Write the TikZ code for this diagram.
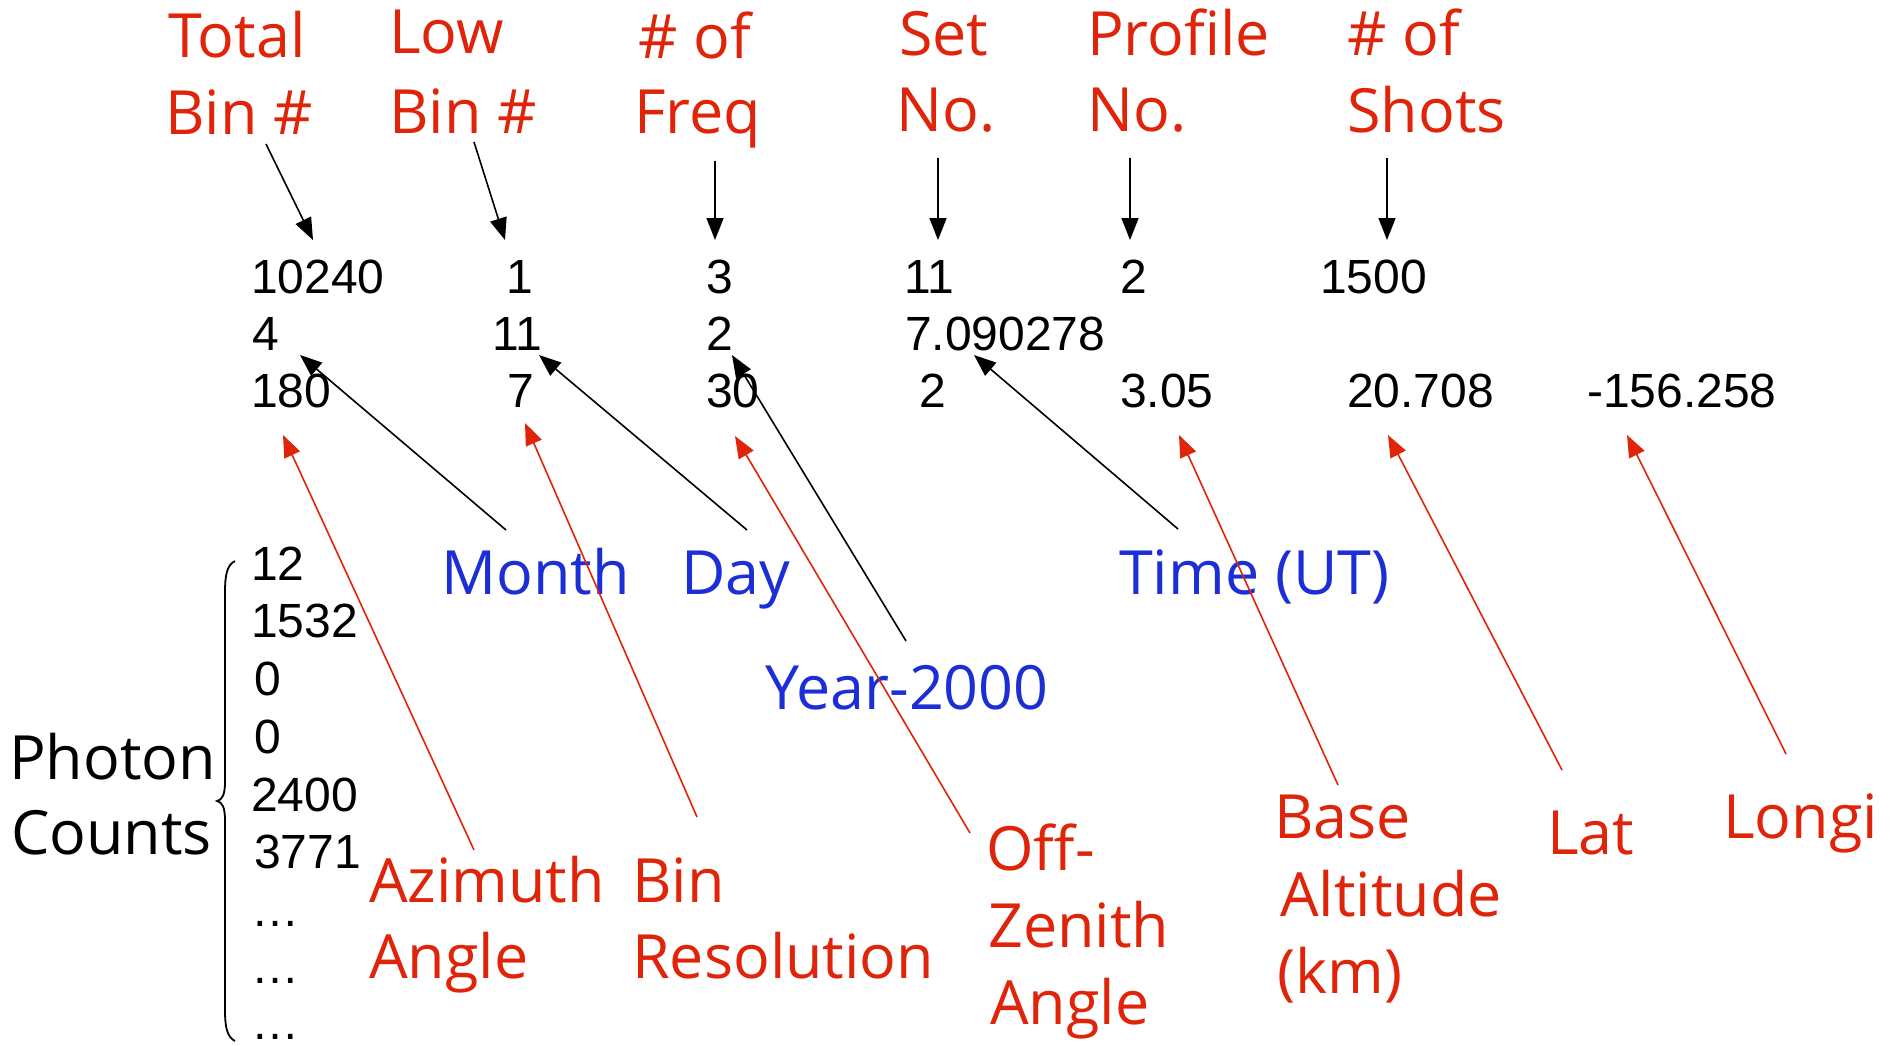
\documentclass[tikz,border=0pt]{standalone}
\usepackage{fontspec}
\setmainfont{Liberation Sans}
\newfontfamily\labfont{Open Sans}
\usetikzlibrary{arrows.meta}
\definecolor{lred}{RGB}{224,36,10}
\definecolor{lblue}{RGB}{28,46,214}
\begin{document}
\begin{tikzpicture}[x=1pt,y=-1pt,
  num/.style={anchor=base west, inner sep=0pt, font=\fontsize{48}{48}\selectfont},
  lab/.style={anchor=base west, inner sep=0pt, font=\labfont\fontsize{61}{61}\selectfont},
  rlab/.style={lab, text=lred},
  blab/.style={lab, text=lblue},
  karr/.style={line width=1.6pt, draw=black, -{Triangle[length=22pt,width=17pt]}},
  rarr/.style={line width=1.6pt, draw=lred, -{Triangle[length=22pt,width=17pt]}}]
\useasboundingbox[fill=white] (0,0) rectangle (1890,1045);

% top red labels
\node[rlab] (tot1) at (168,57) {Total};
\node[rlab] (tot2) at (165,134) {Bin \#};
\node[rlab] (low1) at (389,53) {Low};
\node[rlab] (low2) at (389,133) {Bin \#};
\node[rlab] (frq1) at (638,58) {\# of};
\node[rlab] (frq2) at (634,133) {Freq};
\node[rlab] (set1) at (899,55) {Set};
\node[rlab] (set2) at (896,131) {No.};
\node[rlab] (pro1) at (1087,55) {Profile};
\node[rlab] (pro2) at (1087,131) {No.};
\node[rlab] (sho1) at (1347,55) {\# of};
\node[rlab] (sho2) at (1347,132) {Shots};

% numbers
\node[num] (r1a) at (251,293) {10240};
\node[num] (r1b) at (506,293) {1};
\node[num] (r1c) at (706,293) {3};
\node[num] (r1d) at (904,293) {11};
\node[num] (r1e) at (1120,293) {2};
\node[num] (r1f) at (1320,293) {1500};
\node[num] (r2a) at (252,350) {4};
\node[num] (r2b) at (492,350) {11};
\node[num] (r2c) at (706,350) {2};
\node[num] (r2d) at (905,350) {7.090278};
\node[num] (r3a) at (251,407) {180};
\node[num] (r3b) at (507,407) {7};
\node[num] (r3c) at (706,407) {30};
\node[num] (r3d) at (919,407) {2};
\node[num] (r3e) at (1120,407) {3.05};
\node[num] (r3f) at (1347,407) {20.708};
\node[num] (r3g) at (1587,407) {-156.258};

% photon counts
\node[num] (c1) at (251,580) {12};
\node[num] (c2) at (251,637) {1532};
\node[num] (c3) at (254,695) {0};
\node[num] (c4) at (254,753) {0};
\node[num] (c5) at (251,811) {2400};
\node[num] (c6) at (254,868) {3771};
\node[num] (c7) at (251,926) {…};
\node[num] (c8) at (251,983) {…};
\node[num] (c9) at (251,1039) {…};

\node[lab] (ph1) at (9,779) {Photon};
\node[lab] (ph2) at (11,854) {Counts};
\draw[line width=1.8pt] (235,561) .. controls (227,565) and (225,575) .. (225,592)
  -- (225,782) .. controls (225,795) and (222,800) .. (217,801)
  .. controls (222,802) and (225,807) .. (225,820)
  -- (225,1010) .. controls (225,1027) and (227,1037) .. (235,1041);

% blue labels
\node[blab] (mon) at (441,594) {Month};
\node[blab] (day) at (681,594) {Day};
\node[blab] (tim) at (1119,594) {Time (UT)};
\node[blab] (yr) at (765,709) {Year-2000};

% bottom red labels
\node[rlab] (az1) at (369,902) {Azimuth};
\node[rlab] (az2) at (369,978) {Angle};
\node[rlab] (bn1) at (632,902) {Bin};
\node[rlab] (bn2) at (632,978) {Resolution};
\node[rlab] (oz1) at (986,870) {Off-};
\node[rlab] (oz2) at (988,947) {Zenith};
\node[rlab] (oz3) at (990,1024) {Angle};
\node[rlab] (ba1) at (1274,838) {Base};
\node[rlab] (ba2) at (1280,916) {Altitude};
\node[rlab] (ba3) at (1277,993) {(km)};
\node[rlab] (lat) at (1547,854) {Lat};
\node[rlab] (lon) at (1723,838) {Longi};

% arrow end points
\coordinate (ta1) at (266,144); \coordinate (hb1) at (313,240);
\coordinate (ta2) at (474,142); \coordinate (hb2) at (505,240);
\coordinate (ta3) at (715,161); \coordinate (hb3) at (715,240);
\coordinate (ta4) at (938,158); \coordinate (hb4) at (938,240);
\coordinate (ta5) at (1130,158); \coordinate (hb5) at (1130,240);
\coordinate (ta6) at (1387,158); \coordinate (hb6) at (1387,240);
\coordinate (tmon) at (506,530); \coordinate (hmon) at (300,355);
\coordinate (tday) at (747,530); \coordinate (hday) at (539,355);
\coordinate (tyr) at (906,641); \coordinate (hyr) at (732,355);
\coordinate (ttim) at (1178,529); \coordinate (htim) at (974,355);
\coordinate (taz) at (474,850); \coordinate (haz) at (283,435);
\coordinate (tbn) at (697,817); \coordinate (hbn) at (525,423);
\coordinate (toz) at (970,833); \coordinate (hoz) at (735,436);
\coordinate (tba) at (1338,785); \coordinate (hba) at (1179,435);
\coordinate (tlat) at (1562,770); \coordinate (hlat) at (1388,435);
\coordinate (tlon) at (1786,754); \coordinate (hlon) at (1627,435);

\draw[karr] (ta1) -- (hb1);
\draw[karr] (ta2) -- (hb2);
\draw[karr] (ta3) -- (hb3);
\draw[karr] (ta4) -- (hb4);
\draw[karr] (ta5) -- (hb5);
\draw[karr] (ta6) -- (hb6);
\draw[karr] (tmon) -- (hmon);
\draw[karr] (tday) -- (hday);
\draw[karr] (tyr) -- (hyr);
\draw[karr] (ttim) -- (htim);
\draw[rarr] (taz) -- (haz);
\draw[rarr] (tbn) -- (hbn);
\draw[rarr] (toz) -- (hoz);
\draw[rarr] (tba) -- (hba);
\draw[rarr] (tlat) -- (hlat);
\draw[rarr] (tlon) -- (hlon);
\end{tikzpicture}
\end{document}
